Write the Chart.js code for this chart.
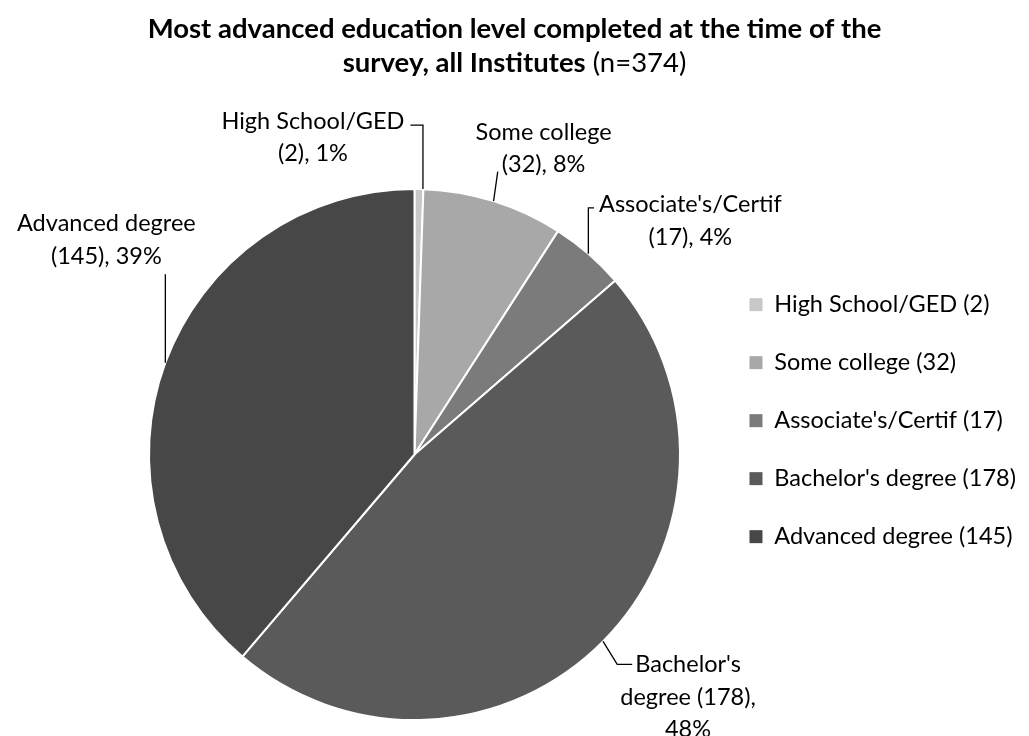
<!DOCTYPE html>
<html><head><meta charset="utf-8">
<script src="https://cdn.jsdelivr.net/npm/chart.js@4.4.0/dist/chart.umd.min.js"></script>
<style>html,body{margin:0;padding:0;background:#fff;overflow:hidden}</style>
</head><body>
<canvas id="c" width="1029" height="736"></canvas>
<script>
// ---- data ----
const categories = ["High School/GED", "Some college", "Associate's/Certif", "Bachelor's degree", "Advanced degree"];
const counts = [2, 32, 17, 178, 145];
const percents = [1, 8, 4, 48, 39];
const sliceColors = ['#c8c8c8', '#a8a8a8', '#7b7b7b', '#5a5a5a', '#474747'];
const titleLine1 = "Most advanced education level completed at the time of the";
const titleLine2Bold = "survey, all Institutes";
const titleLine2Normal = " (n=374)";

const legendLabels = categories.map((c, i) => `${c} (${counts[i]})`);
const dataLabels = categories.map((c, i) => `${c} (${counts[i]}), ${percents[i]}%`);

// ---- styling / layout ----
const FONT = 'Lato, "Open Sans", sans-serif';
const LABEL_SIZE = 23.5;
const TITLE_SIZE = 27.5;
const LINE_H = 32.5;
const labelLayout = [
  {dx: -106, dy: -68, wrap: 205, leader: 'upLeft'},
  {dx: 50, dy: -69, wrap: 168, leader: 'straight'},
  {dx: 102, dy: -49, wrap: 205, leader: 'upRight'},
  {dx: 85, dy: 23, wrap: 158, leader: 'diagRight'},
  {dx: -59, dy: -139, wrap: 205, leader: 'vertical'}
];

function wrapText(ctx, text, maxW) {
  const words = text.split(' ');
  const lines = [];
  let cur = '';
  words.forEach(w => {
    const t = cur ? cur + ' ' + w : w;
    if (cur && ctx.measureText(t).width > maxW) { lines.push(cur); cur = w; }
    else cur = t;
  });
  if (cur) lines.push(cur);
  return lines;
}

const titlePlugin = {
  id: 'mixedTitle',
  afterDraw(chart) {
    const ctx = chart.ctx;
    const cx = chart.width / 2;
    ctx.save();
    ctx.fillStyle = '#000';
    ctx.textBaseline = 'middle';
    ctx.textAlign = 'center';
    ctx.font = `bold ${TITLE_SIZE}px ${FONT}`;
    ctx.fillText(titleLine1, cx, 29);
    const wb = ctx.measureText(titleLine2Bold).width;
    ctx.font = `${TITLE_SIZE}px ${FONT}`;
    const wn = ctx.measureText(titleLine2Normal).width;
    const x0 = cx - (wb + wn) / 2;
    ctx.textAlign = 'left';
    ctx.font = `bold ${TITLE_SIZE}px ${FONT}`;
    ctx.fillText(titleLine2Bold, x0, 63);
    ctx.font = `${TITLE_SIZE}px ${FONT}`;
    ctx.fillText(titleLine2Normal, x0 + wb, 63);
    ctx.restore();
  }
};

const labelPlugin = {
  id: 'pieLabels',
  afterDatasetsDraw(chart) {
    const ctx = chart.ctx;
    const meta = chart.getDatasetMeta(0);
    ctx.save();
    ctx.font = `${LABEL_SIZE}px ${FONT}`;
    ctx.fillStyle = '#000';
    ctx.strokeStyle = '#000';
    ctx.lineWidth = 1.3;
    ctx.textAlign = 'center';
    ctx.textBaseline = 'middle';
    meta.data.forEach((arc, i) => {
      const p = arc.getProps(['x', 'y', 'startAngle', 'endAngle', 'outerRadius'], true);
      const mid = (p.startAngle + p.endAngle) / 2;
      const ex = p.x + Math.cos(mid) * p.outerRadius;
      const ey = p.y + Math.sin(mid) * p.outerRadius;
      const L = labelLayout[i];
      const lines = wrapText(ctx, dataLabels[i], L.wrap);
      const cx = ex + L.dx, cy0 = ey + L.dy;
      lines.forEach((ln, k) => ctx.fillText(ln, cx, cy0 + k * LINE_H));
      const w0 = ctx.measureText(lines[0]).width;
      const wl = ctx.measureText(lines[lines.length - 1]).width;
      const pts = [[ex, ey]];
      if (L.leader === 'upLeft') { pts.push([ex + 4, cy0 + 4], [cx + w0 / 2 + 6, cy0 + 4]); pts[0] = [ex + 4, ey]; }
      else if (L.leader === 'straight') { pts.push([cx - wl / 2 - 4, cy0 + (lines.length - 1) * LINE_H + 7]); }
      else if (L.leader === 'upRight') { pts.push([ex, cy0 + 3], [cx - w0 / 2 - 5, cy0 + 3]); }
      else if (L.leader === 'diagRight') { pts.push([cx - w0 / 2 - 18, cy0], [cx - w0 / 2 - 3, cy0]); }
      else if (L.leader === 'vertical') { pts.push([ex, cy0 + (lines.length - 1) * LINE_H + 18]); }
      ctx.beginPath();
      pts.forEach((q, k) => k ? ctx.lineTo(q[0], q[1]) : ctx.moveTo(q[0], q[1]));
      ctx.stroke();
    });
    ctx.restore();
  }
};

new Chart(document.getElementById('c'), {
  type: 'pie',
  data: {
    labels: legendLabels,
    datasets: [{
      data: counts,
      backgroundColor: sliceColors,
      borderColor: '#ffffff',
      borderWidth: 2
    }]
  },
  options: {
    responsive: false,
    animation: false,
    layout: {padding: {top: 188, right: 3, bottom: 15, left: 114}},
    plugins: {
      tooltip: {enabled: false},
      legend: {
        position: 'right',
        align: 'start',
        title: {display: true, text: '', padding: {top: 56, bottom: 0}},
        labels: {
          boxWidth: 13, boxHeight: 13, padding: 34.5,
          color: '#000',
          font: {family: FONT, size: LABEL_SIZE},
          generateLabels(chart) {
            return Chart.overrides.pie.plugins.legend.labels.generateLabels(chart)
              .map(l => Object.assign(l, {lineWidth: 0, strokeStyle: l.fillStyle}));
          }
        }
      }
    }
  },
  plugins: [labelPlugin, titlePlugin]
});
</script>
</body></html>
